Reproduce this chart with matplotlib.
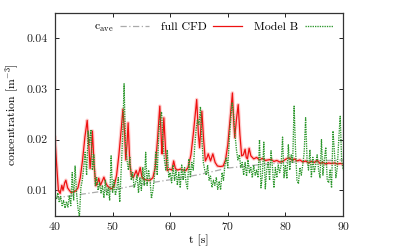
import matplotlib
matplotlib.use("Agg")
import matplotlib.pyplot as plt
import numpy as np

# ---- data ----
# Model B (green dotted), sampled every 0.25 s from t=40 to t=90, units 1e-3 m^-3
model_b_t_start = 40.0
model_b_dt = 0.25
model_b = [
    9.0, 8.2, 9.5, 7.6,
    8.8, 7.0, 8.0, 6.5,
    7.8, 6.7, 9.0, 7.0,
    13.5, 8.0, 14.8, 9.5,
    6.5, 4.8, 10.5, 12.0,
    14.5, 17.5, 13.0, 21.7,
    19.0, 22.0, 14.0, 17.0,
    11.0, 12.5, 10.0, 11.5,
    9.5, 11.0, 8.5, 12.0,
    9.0, 10.5, 8.0, 16.8,
    9.5, 12.0, 9.0, 10.5,
    12.5, 7.7, 14.0, 20.5,
    31.0, 19.0, 16.0, 14.0,
    16.5, 12.0, 13.5, 10.5,
    11.5, 13.0, 9.5, 12.5,
    10.0, 14.5, 11.0, 17.5,
    11.0, 14.0, 12.0, 8.4,
    10.0, 12.5, 17.7, 13.0,
    21.0, 24.0, 25.5, 19.5,
    16.0, 14.0, 18.0, 12.5,
    13.5, 11.5, 15.0, 12.0,
    14.0, 11.0, 13.5, 10.5,
    15.0, 12.0, 14.5, 11.5,
    10.3, 16.2, 12.5, 15.5,
    14.0, 18.5, 22.0, 24.0,
    23.0, 26.5, 20.0, 15.5,
    14.0, 13.0, 15.0, 12.0,
    12.8, 10.6, 12.0, 11.0,
    12.5, 10.2, 11.8, 10.1,
    13.5, 12.0, 15.0, 16.5,
    14.5, 20.0, 24.0, 27.2,
    25.0, 21.0, 18.0, 16.0,
    17.0, 14.5, 15.5, 13.0,
    15.5, 12.8, 16.0, 13.5,
    14.5, 12.5, 15.0, 13.0,
    14.0, 12.5, 20.0, 10.5,
    13.0, 19.5, 10.3, 14.0,
    15.5, 12.0, 17.8, 14.5,
    10.5, 14.5, 12.5, 15.0,
    13.5, 15.0, 20.5, 12.5,
    15.0, 12.3, 19.0, 14.0,
    17.0, 15.5, 26.6, 18.0,
    12.0, 11.3, 14.5, 13.0,
    15.0, 17.5, 24.3, 16.0,
    14.0, 18.0, 12.5, 16.5,
    13.5, 15.0, 17.0, 14.0,
    12.5, 20.0, 13.0, 16.0,
    18.5, 12.0, 11.5, 14.0,
    10.5, 21.7, 17.5, 12.5,
    14.5, 20.0, 24.6, 16.0,
    14.0,
]

# full CFD (red), key points
cfd_t = [40.0, 40.3, 40.6, 40.9, 41.2, 41.4, 41.7, 41.9, 42.2, 42.5, 42.8, 43.2, 43.6,
         44.0, 44.4, 44.8, 45.2, 45.6, 45.9, 46.1, 46.3, 46.5, 46.8, 47.1, 47.4, 47.6,
         47.9, 48.2, 48.5, 48.8, 49.1, 49.5, 49.9, 50.3, 50.7, 51.1, 51.5, 51.8, 52.1,
         52.3, 52.5, 52.7, 53.0, 53.3, 53.6, 54.1, 54.4, 54.8, 55.1, 55.4, 56.0, 56.5,
         57.0, 57.4, 57.8, 58.2, 58.5, 58.6, 58.9, 59.2, 59.5, 59.9, 60.3, 60.6, 60.9,
         61.3, 61.8, 62.3, 62.7, 63.1, 63.6, 64.0, 64.3, 64.6, 64.9, 65.1, 65.5, 65.8,
         66.1, 66.4, 66.6, 67.0, 67.4, 67.8, 68.2, 68.7, 69.2, 69.6, 70.0, 70.4, 70.8,
         71.0, 71.2, 71.5, 71.8, 72.1, 72.4, 72.7, 73.0, 73.2, 73.4, 73.7, 74.0, 74.5,
         75.0, 75.5, 76.0, 76.5, 77.0, 77.5, 78.0, 78.5, 79.0, 79.5, 80.0, 80.5, 80.8,
         81.2, 81.6, 82.0, 82.5, 83.0, 83.5, 84.0, 84.5, 85.0, 85.5, 86.0, 86.5, 87.0,
         87.5, 88.0, 88.5, 89.0, 89.5, 90.0]
cfd_v = [20.4, 15.0, 10.0, 9.4, 11.0, 10.0, 11.5, 12.0, 10.5, 10.0, 9.6, 9.7, 9.9,
         10.5, 12.5, 16.0, 20.5, 23.8, 18.5, 14.3, 17.0, 21.7, 15.0, 10.9, 11.5, 12.4,
         11.0, 11.8, 12.6, 11.5, 10.9, 10.5, 10.3, 11.0, 13.0, 17.0, 22.0, 26.0, 21.0,
         16.0, 19.0, 23.3, 15.2, 12.8, 12.5, 13.9, 12.8, 14.5, 12.6, 12.2, 12.0, 12.0,
         12.5, 14.5, 20.0, 26.6, 19.0, 17.2, 24.3, 18.0, 13.9, 14.2, 14.0, 15.8, 14.3,
         14.0, 14.2, 14.0, 13.9, 14.5, 17.0, 21.0, 24.5, 27.9, 21.0, 18.4, 25.6, 20.0,
         15.8, 16.5, 17.2, 15.8, 17.2, 15.5, 14.8, 14.7, 14.8, 16.0, 19.0, 24.0, 29.2,
         24.0, 20.4, 24.0, 26.9, 21.0, 16.8, 17.0, 18.1, 16.5, 16.2, 18.3, 16.8, 16.2,
         16.5, 16.0, 16.3, 15.9, 16.0, 16.1, 15.7, 15.9, 15.6, 15.7, 16.1, 16.4, 16.3,
         15.9, 16.2, 15.8, 16.0, 15.6, 15.8, 15.4, 15.7, 15.5, 15.9, 15.3, 15.5, 15.2,
         15.4, 15.3, 15.4, 15.2, 15.3, 15.2]

# c_ave (gray dash-dot)
cave_t = [40, 45, 50, 55, 60, 65, 70, 75, 80, 85, 90]
cave_v = [8.5, 9.3, 10.1, 11.2, 12.1, 13.1, 14.4, 15.0, 15.5, 15.8, 16.0]

xticks = [40, 50, 60, 70, 80, 90]
yticks = [0.01, 0.02, 0.03, 0.04]

# ---- style ----
plt.rcParams['font.family'] = 'serif'
plt.rcParams['font.serif'] = ['cmr10', 'DejaVu Serif']
plt.rcParams['mathtext.fontset'] = 'cm'
plt.rcParams['axes.formatter.use_mathtext'] = True

fig = plt.figure(figsize=(3.98, 2.5), dpi=100)
ax = fig.add_axes([0.138, 0.137, 0.724, 0.812])

mb_t = model_b_t_start + model_b_dt * np.arange(len(model_b))
mb_v = np.array(model_b) * 1e-3
cfd_va = np.array(cfd_v) * 1e-3
cave_va = np.array(cave_v) * 1e-3

ax.plot(cave_t, cave_va, color='#aaaaaa', lw=0.9, ls=(0, (5, 2, 1, 2)),
        label=r'$\mathrm{c}_{\mathrm{ave}}$')
ax.plot(cfd_t, cfd_va, color='#ff9090', lw=2.6, alpha=0.45, solid_joinstyle='round')
ax.plot(cfd_t, cfd_va, color='#ee1111', lw=0.9, label='full CFD')
ax.plot(mb_t, mb_v, color='#2a962a', lw=0.95, ls=(0, (1, 0.8)), label='Model B')

ax.set_xlim(40, 90)
ax.set_ylim(0.005, 0.045)
ax.set_xticks(xticks)
ax.set_yticks(yticks)
ax.set_xticklabels([str(v) for v in xticks])
ax.set_yticklabels(['%.2f' % v for v in yticks])
ax.tick_params(direction='in', top=True, right=True, length=3, width=0.7,
               labelsize=8.5, colors='#222222', pad=5)
for s in ax.spines.values():
    s.set_linewidth(0.9)
    s.set_color('#333333')

ax.set_xlabel('t [s]', fontsize=8.5, labelpad=2)
ax.set_ylabel(r'concentration [m$^{-3}$]', fontsize=8.5, labelpad=4)

ax.legend(loc='upper center', ncol=3, frameon=False, markerfirst=False,
          fontsize=8.5, handlelength=2.4, columnspacing=1.0, handletextpad=0.6,
          bbox_to_anchor=(0.55, 0.995), borderaxespad=0.3)

fig.savefig('out.png', dpi=100)
